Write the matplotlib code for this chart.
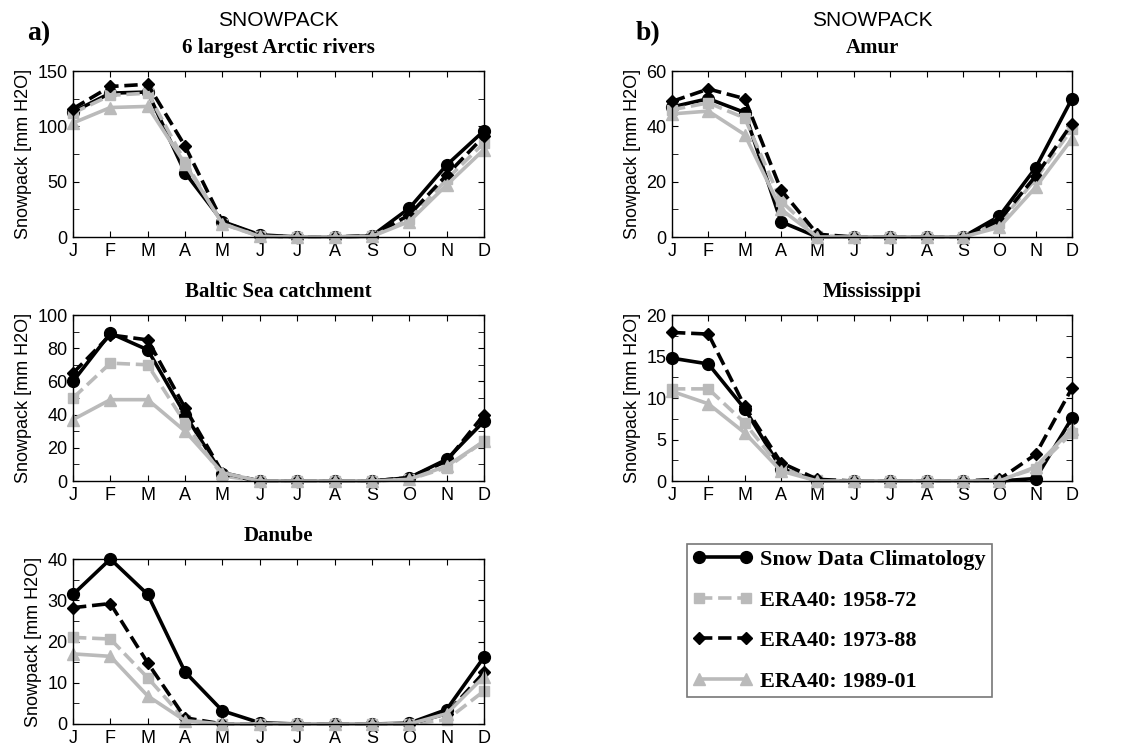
import matplotlib.pyplot as plt
from matplotlib.ticker import MultipleLocator

months = ["J", "F", "M", "A", "M", "J", "J", "A", "S", "O", "N", "D"]
series_labels = ["Snow Data Climatology", "ERA40: 1958-72", "ERA40: 1973-88", "ERA40: 1989-01"]

# snowpack [mm H2O], one list per series: clim, 1958-72, 1973-88, 1989-01
arctic = [
    [113, 130, 131, 58, 14, 2, 0, 0, 1, 26, 65, 96],
    [112, 128, 130, 68, 12, 0.5, 0, 0, 0.5, 16, 52, 85],
    [116, 136, 138, 82, 14, 1, 0, 0, 1, 20, 56, 91],
    [103, 117, 118, 66, 12, 0.5, 0, 0, 0.5, 14, 47, 79],
]
amur = [
    [47, 50, 45, 5.5, 0, 0, 0, 0, 0, 7.5, 25, 50],
    [46, 48.5, 43, 13, 0.5, 0, 0, 0, 0, 5, 21, 39],
    [49, 53.5, 50, 17, 1, 0, 0, 0, 0, 6, 22, 41],
    [44.5, 45.5, 37, 10, 0, 0, 0, 0, 0, 3.5, 18, 35.5],
]
baltic = [
    [60, 89, 79, 40, 4, 0, 0, 0, 0, 2, 13, 36],
    [50, 71, 70, 35, 3, 0, 0, 0, 0, 1, 8, 24],
    [65, 88, 85, 44, 5, 0, 0, 0, 0, 2, 12, 40],
    [37, 49, 49, 30, 5, 0, 0, 0, 0, 1, 9, 24],
]
mississippi = [
    [14.8, 14.1, 8.7, 1.5, 0, 0, 0, 0, 0, 0, 0.3, 7.6],
    [11.1, 11.1, 7.0, 1.5, 0.1, 0, 0, 0, 0, 0.1, 1.5, 5.8],
    [17.9, 17.7, 9.0, 2.2, 0.2, 0, 0, 0, 0, 0.2, 3.2, 11.2],
    [10.8, 9.3, 5.8, 1.2, 0, 0, 0, 0, 0, 0, 1.7, 6.3],
]
danube = [
    [31.4, 40, 31.4, 12.6, 3.2, 0.3, 0, 0, 0, 0.2, 3.5, 16.2],
    [21, 20.6, 11.2, 1, 0, 0, 0, 0, 0, 0, 1, 8],
    [28.2, 29.2, 14.8, 1.5, 0, 0, 0, 0, 0, 0, 2.5, 12.5],
    [17, 16.4, 6.8, 0.8, 0, 0, 0, 0, 0, 0, 2.5, 11.5],
]

GRAY = "#bababa"
styles = [
    dict(color="black", ls="-", marker="o", ms=8.5),
    dict(color=GRAY, ls="--", marker="s", ms=6.5),
    dict(color="black", ls="--", marker="D", ms=6.5),
    dict(color=GRAY, ls="-", marker="^", ms=9),
]

W, H = 1134, 749
fig = plt.figure(figsize=(W / 100, H / 100), dpi=100)

serif = "Liberation Serif"
sans = "Liberation Sans"


def make_ax(left, right, top, bottom):
    return fig.add_axes([left / W, 1 - bottom / H, (right - left) / W, (bottom - top) / H])


def draw(ax, data, ymax, major, title):
    x = list(range(12))
    for vals, st in zip(data, styles):
        ax.plot(x, vals, lw=2.6, clip_on=False, **st)
    ax.set_xlim(0, 11)
    ax.set_ylim(0, ymax)
    ax.set_xticks(x)
    ax.set_xticklabels(months, fontfamily=sans, fontsize=13)
    ax.yaxis.set_major_locator(MultipleLocator(major))
    ax.yaxis.set_minor_locator(MultipleLocator(major / 2))
    for lab in ax.get_yticklabels():
        lab.set_fontfamily(sans)
    ax.tick_params(axis="both", which="both", direction="in", top=True, right=True,
                   labelsize=13)
    ax.tick_params(axis="x", which="major", length=4, pad=4)
    ax.tick_params(axis="y", which="major", length=4, pad=4)
    ax.tick_params(axis="y", which="minor", length=4)
    ax.set_ylabel("Snowpack [mm H2O]", fontfamily=sans, fontsize=13, labelpad=4)
    ax.set_title(title, fontfamily=serif, fontweight="bold", fontsize=15, pad=13)
    for sp in ax.spines.values():
        sp.set_linewidth(1.0)


ax1 = make_ax(73, 484, 71, 237)
draw(ax1, arctic, 150, 50, "6 largest Arctic rivers")
ax2 = make_ax(672, 1072, 71, 237)
draw(ax2, amur, 60, 20, "Amur")
ax3 = make_ax(73, 484, 315, 481)
draw(ax3, baltic, 100, 20, "Baltic Sea catchment")
ax4 = make_ax(672, 1072, 315, 481)
draw(ax4, mississippi, 20, 5, "Mississippi")
ax5 = make_ax(73, 484, 559, 724)
draw(ax5, danube, 40, 10, "Danube")

fig.text(278 / W, 1 - 20 / H, "SNOWPACK", fontfamily=sans, fontsize=15, ha="center", va="center")
fig.text(872 / W, 1 - 20 / H, "SNOWPACK", fontfamily=sans, fontsize=15, ha="center", va="center")
fig.text(27 / W, 1 - 34 / H, "a)", fontfamily=serif, fontweight="bold", fontsize=20, va="center")
fig.text(636 / W, 1 - 34 / H, "b)", fontfamily=serif, fontweight="bold", fontsize=20, va="center")

handles = ax1.get_lines()
leg = fig.legend(handles, series_labels, loc="upper left",
                 bbox_to_anchor=(687 / W, 1 - 544 / H), bbox_transform=fig.transFigure,
                 prop=dict(family=serif, weight="bold", size=16), frameon=True,
                 fancybox=False, numpoints=2, handlelength=2.7, labelspacing=0.9,
                 borderpad=0.25, handletextpad=0.35, borderaxespad=0)
leg.get_frame().set_edgecolor("#555555")
leg.get_frame().set_linewidth(1.2)

fig.savefig("out.png", dpi=100)
